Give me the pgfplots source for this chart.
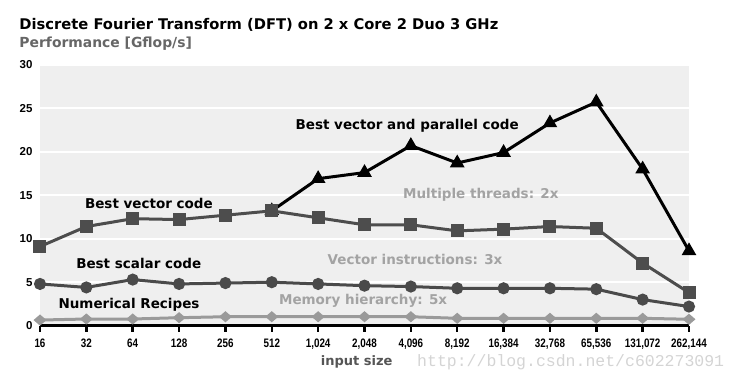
\documentclass[border=0pt]{standalone}
\usepackage{pgfplots}
\pgfplotsset{compat=1.18}
\usepackage{fontspec}
\setmainfont{DejaVu Sans}
\newfontfamily\arialfont{Liberation Sans}
\newfontfamily\wmfont{Liberation Mono}
\definecolor{bggray}{HTML}{EFEFEF}
\definecolor{vecgray}{HTML}{4D4D4D}
\definecolor{scalgray}{HTML}{4A4A4A}
\definecolor{nrgray}{HTML}{9A9A9A}
\definecolor{annogray}{HTML}{A3A3A3}
\definecolor{subgray}{HTML}{666666}
\definecolor{labgray}{HTML}{555555}
\definecolor{wmgray}{HTML}{D4D4D4}
\newcommand\nx[1]{\scalebox{0.8}[1]{#1}}
\begin{document}
\begin{tikzpicture}
\useasboundingbox (-40pt,-55.3pt) rectangle (698pt,325.7pt);
\begin{axis}[
  scale only axis, width=649pt, height=261pt,
  xmin=0, xmax=14, ymin=0, ymax=30,
  axis background/.style={fill=bggray},
  axis x line=bottom, axis y line=left,
  x axis line style={-, line width=3.5pt, black},
  y axis line style={draw=none},
  /pgf/number format/assume math mode=true,
  xtick={0,...,14},
  xticklabels={\nx{16},\nx{32},\nx{64},\nx{128},\nx{256},\nx{512},\nx{1,024},\nx{2,048},\nx{4,096},\nx{8,192},\nx{16,384},\nx{32,768},\nx{65,536},\nx{131,072},\nx{262,144}},
  xtick style={line width=2.5pt, black},
  major tick length=6pt, tick align=outside,
  ytick={0,5,...,30},
  ytick style={draw=none},
  ymajorgrids, grid style={white, line width=2pt},
  xticklabel style={font=\arialfont\bfseries\fontsize{12.3}{12.3}\selectfont, yshift=-4pt},
  yticklabel style={font=\arialfont\bfseries\fontsize{11.5}{11.5}\selectfont, anchor=east, xshift=2pt},
  clip=false,
]
% Best vector and parallel code
\addplot[black, line width=3pt, mark=triangle*, mark size=5.5pt, mark options={solid}] coordinates {
 (5,13.2) (6,16.9) (7,17.6) (8,20.7) (9,18.7) (10,19.9) (11,23.3) (12,25.7) (13,18.0) (14,8.6)};
% Numerical Recipes
\addplot[nrgray, line width=3pt, mark=diamond*, mark size=4pt, mark options={xscale=1.4, yscale=0.9}] coordinates {
 (0,0.65) (1,0.77) (2,0.77) (3,0.92) (4,1.03) (5,1.03) (6,1.03) (7,1.03) (8,1.03) (9,0.85) (10,0.85) (11,0.85) (12,0.85) (13,0.85) (14,0.74)};
% Best scalar code
\addplot[scalgray, line width=3pt, mark=*, mark size=4.5pt] coordinates {
 (0,4.8) (1,4.4) (2,5.3) (3,4.8) (4,4.9) (5,5.0) (6,4.8) (7,4.6) (8,4.5) (9,4.3) (10,4.3) (11,4.3) (12,4.2) (13,3.0) (14,2.2)};
% Best vector code
\addplot[vecgray, line width=3pt, mark=square*, mark size=5pt] coordinates {
 (0,9.1) (1,11.4) (2,12.3) (3,12.2) (4,12.7) (5,13.2) (6,12.4) (7,11.6) (8,11.6) (9,10.9) (10,11.1) (11,11.4) (12,11.2) (13,7.2) (14,3.8)};
\begin{scope}[every node/.style={font=\bfseries\fontsize{13.5}{13.5}\selectfont}]
\node at (axis cs:7.92,22.95) {Best vector and parallel code};
\node at (axis cs:2.35,14.1) {Best vector code};
\node at (axis cs:2.13,7.2) {Best scalar code};
\node at (axis cs:1.92,2.4) {Numerical Recipes};
\node[text=annogray] at (axis cs:9.51,15.03) {Multiple threads: 2x};
\node[text=annogray] at (axis cs:8.09,7.67) {Vector instructions: 3x};
\node[text=annogray] at (axis cs:6.97,2.84) {Memory hierarchy: 5x};
\end{scope}
\end{axis}
\node[anchor=base west, inner sep=0pt] at (-20.7pt,295.7pt) {\fontsize{14.7}{14.7}\selectfont\bfseries Discrete Fourier Transform (DFT) on 2 x Core 2 Duo 3 GHz};
\node[anchor=base west, inner sep=0pt, text=subgray] at (-20.7pt,278pt) {\fontsize{13.9}{13.9}\selectfont\bfseries Performance [Gflop/s]};
\node[text=labgray] at (316.7pt,-36.3pt) {\bfseries\fontsize{13}{13}\selectfont input size};
\node[anchor=west, text=wmgray, inner sep=0pt] at (377pt,-36.3pt) {\wmfont\fontsize{16.5}{16.5}\selectfont http://blog.csdn.net/c602273091};
\end{tikzpicture}
\end{document}
